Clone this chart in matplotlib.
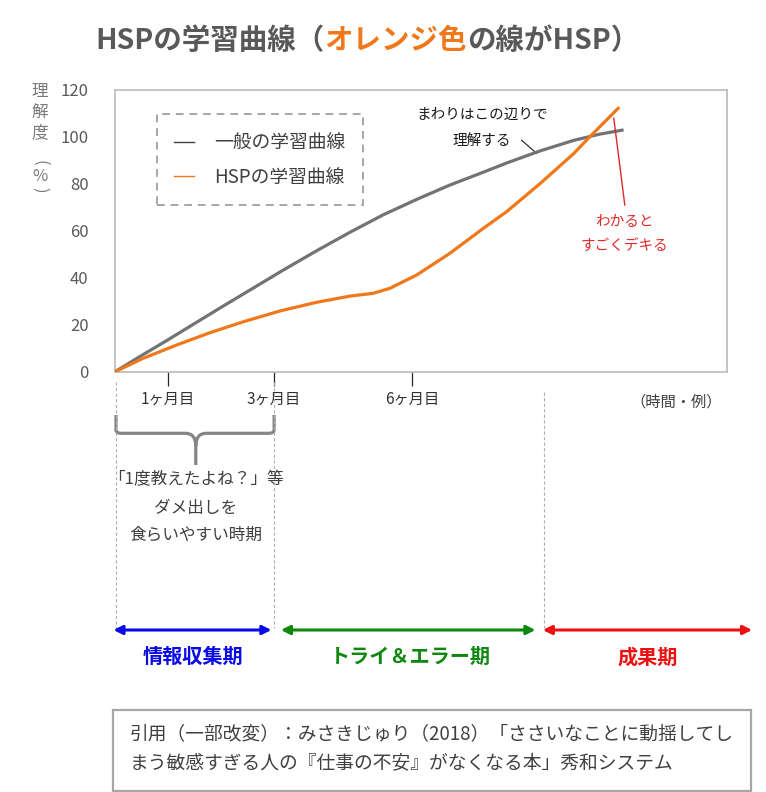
import matplotlib
matplotlib.use("Agg")
import matplotlib.pyplot as plt
from matplotlib.lines import Line2D
from matplotlib.path import Path
from matplotlib.patches import PathPatch, Rectangle

plt.rcParams['font.family'] = ['Noto Sans CJK JP', 'DejaVu Sans']

# ---------------- data ----------------
general_x = [0, 4.6, 8.6, 17.2, 25.9, 27.5, 33.0, 38.4, 43.8, 49.3, 54.7, 60.2, 64.0, 69.4, 74.9, 79.2, 83.1]
general_y = [0, 7.3, 13.5, 27.2, 40.8, 43.3, 51.6, 59.4, 66.8, 73.4, 79.5, 85.0, 88.9, 94.0, 98.5, 101.2, 103.0]

hsp_x = [0, 4.6, 10.1, 15.5, 21.0, 27.0, 33.0, 38.4, 42.2, 44.9, 49.3, 54.7, 60.2, 64.0, 69.4, 74.9, 77.6, 82.4]
hsp_y = [0, 5.7, 11.4, 16.6, 21.3, 25.9, 29.6, 32.2, 33.4, 35.5, 41.2, 50.4, 61.1, 68.2, 80.0, 92.8, 100.1, 112.7]

series_labels = ['一般の学習曲線', 'HSPの学習曲線']
y_ticks = [0, 20, 40, 60, 80, 100, 120]
x_tick_pos = [8.6, 25.9, 48.6]
x_tick_labels = ['1ヶ月目', '3ヶ月目', '6ヶ月目']
phase_bounds = [0, 25.9, 69.9]
phase_names = ['情報収集期', 'トライ＆エラー期', '成果期']
phase_spans = [(-0.26, 25.56), (27.1, 68.7), (69.9, 104.1)]
phase_colors = ['#0A0AE6', '#0E870E', '#EE1010']

GRAY = '#737373'
ORANGE = '#F0781A'

W, H = 766, 792
fig = plt.figure(figsize=(W / 100, H / 100), dpi=100)
fig.patch.set_facecolor('white')

def fx(px):
    return px / W

def fy(py):
    return 1 - py / H

ax_left, ax_right, ax_top, ax_bot = 115, 727, 90, 371.7
ax = fig.add_axes([fx(ax_left), fy(ax_bot), (ax_right - ax_left) / W, (ax_bot - ax_top) / H])
ax.set_xlim(0, 100)
ax.set_ylim(0, 120)

def ayf(py):
    # pixel y -> axes fraction
    return (ax_bot - py) / (ax_bot - ax_top)

for s in ax.spines.values():
    s.set_color('#BFBFBF')
    s.set_linewidth(1.3)

ax.plot(general_x, general_y, color=GRAY, lw=2.3, solid_capstyle='butt', solid_joinstyle='round', zorder=3)
ax.plot(hsp_x, hsp_y, color=ORANGE, lw=2.3, solid_capstyle='butt', solid_joinstyle='round', zorder=4)

ax.set_yticks(y_ticks)
ax.set_yticklabels([str(v) for v in y_ticks])
ax.tick_params(axis='y', length=0, pad=19, labelsize=12, labelcolor='#595959')
ax.set_xticks(x_tick_pos)
ax.set_xticklabels(x_tick_labels)
ax.tick_params(axis='x', direction='out', length=10, width=0.9, color='#262626',
               pad=4, labelsize=11, labelcolor='#333333')

# legend
handles = [Line2D([], [], color='#404040', lw=1.0), Line2D([], [], color=ORANGE, lw=1.0)]
leg = ax.legend(handles, series_labels, loc='upper left', bbox_to_anchor=(0.0681, 0.9137),
                borderaxespad=0, fontsize=13.5, handlelength=1.05, handletextpad=1.05,
                labelspacing=0.72, borderpad=0.95, fancybox=False, framealpha=1,
                edgecolor='#A6A6A6', labelcolor='#404040')
leg.get_frame().set_linewidth(1.4)
leg.get_frame().set_linestyle((0, (4, 3)))

# annotations in plot
ax.text(59.97, 109.4, 'まわりはこの辺りで', ha='center', va='center', fontsize=10.5, color='#1a1a1a')
ax.text(59.97, 98.4, '理解する', ha='center', va='center', fontsize=10.5, color='#1a1a1a')
ax.plot([66.45, 68.9], [98.6, 92.97], color='#1a1a1a', lw=0.8)
ax.plot([81.5, 83.3], [108.0, 71.0], color='#E02828', lw=1.0, zorder=5)
ax.text(83.3, 63.9, 'わかると', ha='center', va='center', fontsize=10.5, color='#E02828')
ax.text(83.3, 53.7, 'すごくデキる', ha='center', va='center', fontsize=10.5, color='#E02828')

# y label (vertical, stacked)
for ch, py in zip(['理', '解', '度'], [91.7, 112.5, 132.5]):
    fig.text(fx(40), fy(py), ch, ha='center', va='center', fontsize=12, color='#7A7A7A')
fig.text(fx(40), fy(163), '(', ha='center', va='center', fontsize=12, color='#7A7A7A', rotation=-90)
fig.text(fx(40), fy(176.7), '%', ha='center', va='center', fontsize=12, color='#7A7A7A')
fig.text(fx(40), fy(190), ')', ha='center', va='center', fontsize=12, color='#7A7A7A', rotation=-90)

fig.text(fx(676), fy(402), '（時間・例）', ha='center', va='center', fontsize=11, color='#404040')

xt = ax.get_xaxis_transform()

# dashed phase separators
for xb, ptop in zip(phase_bounds, [382, 382, 392]):
    ax.plot([xb + 0.15, xb + 0.15], [ayf(ptop), ayf(628)], transform=xt, clip_on=False,
            color='#B0B0B0', lw=0.8, ls=(0, (3, 2)))

# bracket
yt, yh, yb = ayf(415), ayf(433.3), ayf(465)
yc = ayf(430)
ys = ayf(446)
xl, xr, xm = 0.16, 26.0, 13.2
verts = [(xl, yt), (xl, yc), (xl, yh), (xl + 0.9, yh), (xm - 1.7, yh), (xm, yh), (xm, ys), (xm, yb),
         (xr, yt), (xr, yc), (xr, yh), (xr - 0.9, yh), (xm + 1.7, yh), (xm, yh), (xm, ys)]
codes = [Path.MOVETO, Path.LINETO, Path.CURVE3, Path.CURVE3, Path.LINETO, Path.CURVE3, Path.CURVE3, Path.LINETO,
         Path.MOVETO, Path.LINETO, Path.CURVE3, Path.CURVE3, Path.LINETO, Path.CURVE3, Path.CURVE3]
ax.add_patch(PathPatch(Path(verts, codes), transform=xt, clip_on=False, fill=False,
                       edgecolor='#858585', lw=2.3, capstyle='butt', joinstyle='round'))

for line, py in zip(['「1度教えたよね？」等', 'ダメ出しを', '食らいやすい時期'], [480, 508.3, 535]):
    ax.text(xm, ayf(py), line, transform=xt, ha='center', va='center', fontsize=12,
            color='#404040', clip_on=False)

# phase arrows
centers = [12.75, 48.3, 87.1]
for (x0, x1), name, col, cx in zip(phase_spans, phase_names, phase_colors, centers):
    ax.annotate('', xy=(x1, ayf(630)), xytext=(x0, ayf(630)), xycoords=xt, textcoords=xt,
                annotation_clip=False,
                arrowprops=dict(arrowstyle='<|-|>', color=col, lw=2.2, mutation_scale=13,
                                shrinkA=0, shrinkB=0))
    ax.text(cx, ayf(656.7), name, transform=xt, ha='center', va='center', fontsize=14.5,
            fontweight='bold', color=col, clip_on=False)

# citation box
fig.patches.append(Rectangle((fx(113.4), fy(790.7)), (750.6 - 113.4) / W, (790.7 - 710) / H,
                             transform=fig.transFigure, fill=False, edgecolor='#A6A6A6', lw=1.6))
fig.text(fx(129.6), fy(733.3), '引用（一部改変）：みさきじゅり（2018）「ささいなことに動揺してし',
         ha='left', va='center', fontsize=13.5, color='#404040')
fig.text(fx(129.6), fy(763.3), 'まう敏感すぎる人の『仕事の不安』がなくなる本」秀和システム',
         ha='left', va='center', fontsize=13.5, color='#404040')

# title in three colored pieces
TCOL = '#595959'
t1 = fig.text(fx(95.4), fy(49), 'HSPの学習曲線（', ha='left', va='baseline', fontsize=20.5,
              fontweight='bold', color=TCOL)
t2 = ax.annotate('オレンジ色', xy=(1, 0), xycoords=t1, ha='left', va='bottom', fontsize=20.5,
                 fontweight='bold', color=ORANGE, annotation_clip=False)
t3 = ax.annotate('の線がHSP）', xy=(1, 0), xycoords=t2, ha='left', va='bottom', fontsize=20.5,
                 fontweight='bold', color=TCOL, annotation_clip=False)

fig.savefig('out.png', dpi=100, facecolor='white')
